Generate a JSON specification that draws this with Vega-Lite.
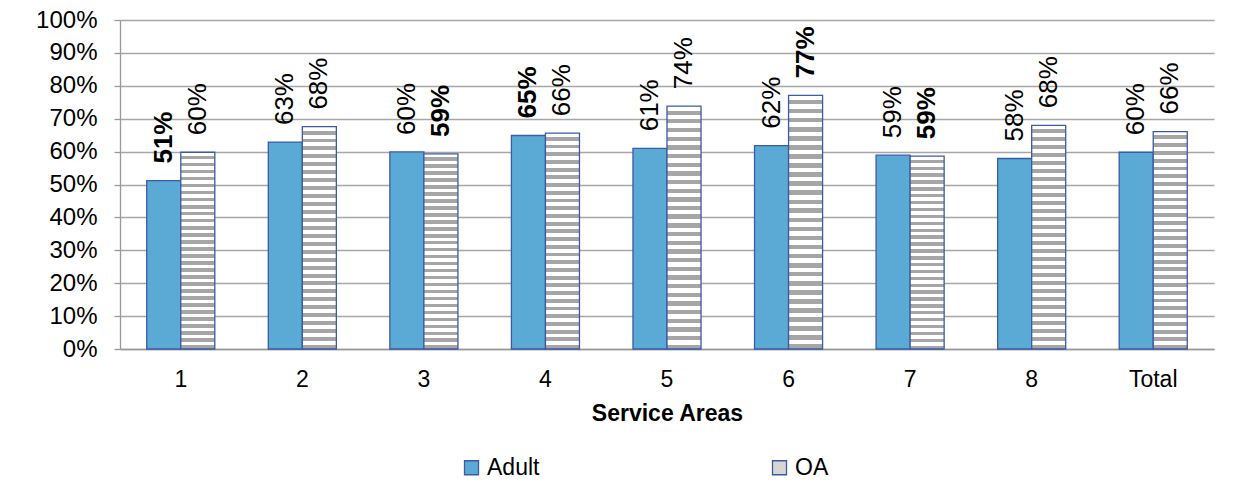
{
  "$schema": "https://vega.github.io/schema/vega-lite/v6.json",
  "autosize": "none",
  "width": 1094,
  "height": 329,
  "padding": {"left": 120, "top": 20, "right": 37, "bottom": 155},
  "background": "#ffffff",
  "config": {
    "font": "Liberation Sans",
    "view": {"stroke": null},
    "axis": {
      "labelFont": "Liberation Sans",
      "labelColor": "#000000",
      "labelFontSize": 23,
      "titleFont": "Liberation Sans",
      "titleColor": "#000000",
      "domainColor": "#999999",
      "domainWidth": 1.3,
      "tickColor": "#999999",
      "tickWidth": 1.3,
      "gridColor": "#A6A6A6",
      "gridWidth": 1.3
    }
  },
  "data": {
    "values": [
      {"area": "1", "group": "Adult", "value": 0.512, "significant": true},
      {"area": "1", "group": "OA", "value": 0.598, "significant": false},
      {"area": "2", "group": "Adult", "value": 0.629, "significant": false},
      {"area": "2", "group": "OA", "value": 0.676, "significant": false},
      {"area": "3", "group": "Adult", "value": 0.599, "significant": false},
      {"area": "3", "group": "OA", "value": 0.593, "significant": true},
      {"area": "4", "group": "Adult", "value": 0.649, "significant": true},
      {"area": "4", "group": "OA", "value": 0.656, "significant": false},
      {"area": "5", "group": "Adult", "value": 0.610, "significant": false},
      {"area": "5", "group": "OA", "value": 0.738, "significant": false},
      {"area": "6", "group": "Adult", "value": 0.618, "significant": false},
      {"area": "6", "group": "OA", "value": 0.771, "significant": true},
      {"area": "7", "group": "Adult", "value": 0.589, "significant": false},
      {"area": "7", "group": "OA", "value": 0.586, "significant": true},
      {"area": "8", "group": "Adult", "value": 0.579, "significant": false},
      {"area": "8", "group": "OA", "value": 0.680, "significant": false},
      {"area": "Total", "group": "Adult", "value": 0.598, "significant": false},
      {"area": "Total", "group": "OA", "value": 0.661, "significant": false}
    ]
  },
  "encoding": {
    "x": {
      "field": "area",
      "type": "nominal",
      "sort": ["1", "2", "3", "4", "5", "6", "7", "8", "Total"],
      "scale": {"paddingInner": 0.44, "paddingOuter": 0.22},
      "title": "Service Areas",
      "axis": {
        "labelAngle": 0,
        "ticks": false,
        "labelPadding": 19,
        "grid": false,
        "titleFontSize": 23,
        "titleFontWeight": "bold",
        "titlePadding": 11
      }
    },
    "xOffset": {
      "field": "group",
      "type": "nominal",
      "sort": ["Adult", "OA"],
      "scale": {"paddingInner": 0, "paddingOuter": 0}
    },
    "y": {
      "field": "value",
      "type": "quantitative",
      "scale": {"domain": [0, 1], "nice": false},
      "title": null,
      "axis": {
        "format": ".0%",
        "values": [0, 0.1, 0.2, 0.3, 0.4, 0.5, 0.6, 0.7, 0.8, 0.9, 1],
        "tickSize": 6,
        "labelPadding": 17,
        "labelFontSize": 24,
        "grid": true
      }
    }
  },
  "layer": [
    {
      "transform": [{"filter": "datum.group === 'Adult'"}],
      "mark": {"type": "bar", "stroke": "#3B5BA5", "strokeWidth": 1.3},
      "encoding": {
        "fill": {
          "field": "group",
          "type": "nominal",
          "scale": {"domain": ["Adult", "OA"], "range": ["#5BAAD5", "#D6D6D6"]},
          "legend": {
            "orient": "none",
            "legendX": 340,
            "legendY": 436,
            "direction": "horizontal",
            "title": null,
            "symbolType": "square",
            "symbolSize": 196,
            "symbolStrokeColor": "#3B5BA5",
            "symbolStrokeWidth": 1.3,
            "labelFont": "Liberation Sans",
            "labelFontSize": 23,
            "labelColor": "#000000",
            "labelOffset": 4,
            "columnPadding": 228,
            "encode": {
              "symbols": {
                "enter": {
                  "fill": [
                    {
                      "test": "datum.value === 'OA'",
                      "value": {
                        "gradient": "linear", "x1": 0, "y1": 0, "x2": 0, "y2": 1,
                        "stops": [
                          {"offset": 0, "color": "#FFFFFF"},
                          {"offset": 0.5, "color": "#FFFFFF"},
                          {"offset": 0.5, "color": "#A6A6A6"},
                          {"offset": 1, "color": "#A6A6A6"}
                        ]
                      }
                    },
                    {"value": "#5BAAD5"}
                  ]
                },
                "update": {
                  "stroke": {"value": "#3B5BA5"},
                  "strokeWidth": {"value": 1.3}
                }
              }
            }
          }
        }
      }
    },
    {
      "transform": [{"filter": "datum.group === 'OA'"}],
      "mark": {
        "type": "bar",
        "stroke": "#3B5BA5",
        "strokeWidth": 1.3,
        "fill": {
          "gradient": "linear", "x1": 0, "y1": 0, "x2": 0, "y2": 1,
          "stops": [
            {"offset": 0, "color": "#FFFFFF"}, {"offset": 0.018, "color": "#FFFFFF"},
            {"offset": 0.018, "color": "#A6A6A6"}, {"offset": 0.036, "color": "#A6A6A6"},
            {"offset": 0.036, "color": "#FFFFFF"}, {"offset": 0.054, "color": "#FFFFFF"},
            {"offset": 0.054, "color": "#A6A6A6"}, {"offset": 0.071, "color": "#A6A6A6"},
            {"offset": 0.071, "color": "#FFFFFF"}, {"offset": 0.089, "color": "#FFFFFF"},
            {"offset": 0.089, "color": "#A6A6A6"}, {"offset": 0.107, "color": "#A6A6A6"},
            {"offset": 0.107, "color": "#FFFFFF"}, {"offset": 0.125, "color": "#FFFFFF"},
            {"offset": 0.125, "color": "#A6A6A6"}, {"offset": 0.143, "color": "#A6A6A6"},
            {"offset": 0.143, "color": "#FFFFFF"}, {"offset": 0.161, "color": "#FFFFFF"},
            {"offset": 0.161, "color": "#A6A6A6"}, {"offset": 0.179, "color": "#A6A6A6"},
            {"offset": 0.179, "color": "#FFFFFF"}, {"offset": 0.196, "color": "#FFFFFF"},
            {"offset": 0.196, "color": "#A6A6A6"}, {"offset": 0.214, "color": "#A6A6A6"},
            {"offset": 0.214, "color": "#FFFFFF"}, {"offset": 0.232, "color": "#FFFFFF"},
            {"offset": 0.232, "color": "#A6A6A6"}, {"offset": 0.25, "color": "#A6A6A6"},
            {"offset": 0.25, "color": "#FFFFFF"}, {"offset": 0.268, "color": "#FFFFFF"},
            {"offset": 0.268, "color": "#A6A6A6"}, {"offset": 0.286, "color": "#A6A6A6"},
            {"offset": 0.286, "color": "#FFFFFF"}, {"offset": 0.304, "color": "#FFFFFF"},
            {"offset": 0.304, "color": "#A6A6A6"}, {"offset": 0.321, "color": "#A6A6A6"},
            {"offset": 0.321, "color": "#FFFFFF"}, {"offset": 0.339, "color": "#FFFFFF"},
            {"offset": 0.339, "color": "#A6A6A6"}, {"offset": 0.357, "color": "#A6A6A6"},
            {"offset": 0.357, "color": "#FFFFFF"}, {"offset": 0.375, "color": "#FFFFFF"},
            {"offset": 0.375, "color": "#A6A6A6"}, {"offset": 0.393, "color": "#A6A6A6"},
            {"offset": 0.393, "color": "#FFFFFF"}, {"offset": 0.411, "color": "#FFFFFF"},
            {"offset": 0.411, "color": "#A6A6A6"}, {"offset": 0.429, "color": "#A6A6A6"},
            {"offset": 0.429, "color": "#FFFFFF"}, {"offset": 0.446, "color": "#FFFFFF"},
            {"offset": 0.446, "color": "#A6A6A6"}, {"offset": 0.464, "color": "#A6A6A6"},
            {"offset": 0.464, "color": "#FFFFFF"}, {"offset": 0.482, "color": "#FFFFFF"},
            {"offset": 0.482, "color": "#A6A6A6"}, {"offset": 0.5, "color": "#A6A6A6"},
            {"offset": 0.5, "color": "#FFFFFF"}, {"offset": 0.518, "color": "#FFFFFF"},
            {"offset": 0.518, "color": "#A6A6A6"}, {"offset": 0.536, "color": "#A6A6A6"},
            {"offset": 0.536, "color": "#FFFFFF"}, {"offset": 0.554, "color": "#FFFFFF"},
            {"offset": 0.554, "color": "#A6A6A6"}, {"offset": 0.571, "color": "#A6A6A6"},
            {"offset": 0.571, "color": "#FFFFFF"}, {"offset": 0.589, "color": "#FFFFFF"},
            {"offset": 0.589, "color": "#A6A6A6"}, {"offset": 0.607, "color": "#A6A6A6"},
            {"offset": 0.607, "color": "#FFFFFF"}, {"offset": 0.625, "color": "#FFFFFF"},
            {"offset": 0.625, "color": "#A6A6A6"}, {"offset": 0.643, "color": "#A6A6A6"},
            {"offset": 0.643, "color": "#FFFFFF"}, {"offset": 0.661, "color": "#FFFFFF"},
            {"offset": 0.661, "color": "#A6A6A6"}, {"offset": 0.679, "color": "#A6A6A6"},
            {"offset": 0.679, "color": "#FFFFFF"}, {"offset": 0.696, "color": "#FFFFFF"},
            {"offset": 0.696, "color": "#A6A6A6"}, {"offset": 0.714, "color": "#A6A6A6"},
            {"offset": 0.714, "color": "#FFFFFF"}, {"offset": 0.732, "color": "#FFFFFF"},
            {"offset": 0.732, "color": "#A6A6A6"}, {"offset": 0.75, "color": "#A6A6A6"},
            {"offset": 0.75, "color": "#FFFFFF"}, {"offset": 0.768, "color": "#FFFFFF"},
            {"offset": 0.768, "color": "#A6A6A6"}, {"offset": 0.786, "color": "#A6A6A6"},
            {"offset": 0.786, "color": "#FFFFFF"}, {"offset": 0.804, "color": "#FFFFFF"},
            {"offset": 0.804, "color": "#A6A6A6"}, {"offset": 0.821, "color": "#A6A6A6"},
            {"offset": 0.821, "color": "#FFFFFF"}, {"offset": 0.839, "color": "#FFFFFF"},
            {"offset": 0.839, "color": "#A6A6A6"}, {"offset": 0.857, "color": "#A6A6A6"},
            {"offset": 0.857, "color": "#FFFFFF"}, {"offset": 0.875, "color": "#FFFFFF"},
            {"offset": 0.875, "color": "#A6A6A6"}, {"offset": 0.893, "color": "#A6A6A6"},
            {"offset": 0.893, "color": "#FFFFFF"}, {"offset": 0.911, "color": "#FFFFFF"},
            {"offset": 0.911, "color": "#A6A6A6"}, {"offset": 0.929, "color": "#A6A6A6"},
            {"offset": 0.929, "color": "#FFFFFF"}, {"offset": 0.946, "color": "#FFFFFF"},
            {"offset": 0.946, "color": "#A6A6A6"}, {"offset": 0.964, "color": "#A6A6A6"},
            {"offset": 0.964, "color": "#FFFFFF"}, {"offset": 0.982, "color": "#FFFFFF"},
            {"offset": 0.982, "color": "#A6A6A6"}, {"offset": 1, "color": "#A6A6A6"}
          ]
        }
      }
    },
    {
      "transform": [{"filter": "!datum.significant"}],
      "mark": {
        "type": "text",
        "angle": 270,
        "align": "left",
        "baseline": "middle",
        "dx": 17,
        "font": "Liberation Sans",
        "fontSize": 26,
        "color": "#000000"
      },
      "encoding": {"text": {"field": "value", "type": "quantitative", "format": ".0%"}}
    },
    {
      "transform": [{"filter": "datum.significant"}],
      "mark": {
        "type": "text",
        "angle": 270,
        "align": "left",
        "baseline": "middle",
        "dx": 17,
        "font": "Liberation Sans",
        "fontSize": 26,
        "fontWeight": "bold",
        "color": "#000000"
      },
      "encoding": {"text": {"field": "value", "type": "quantitative", "format": ".0%"}}
    }
  ]
}
